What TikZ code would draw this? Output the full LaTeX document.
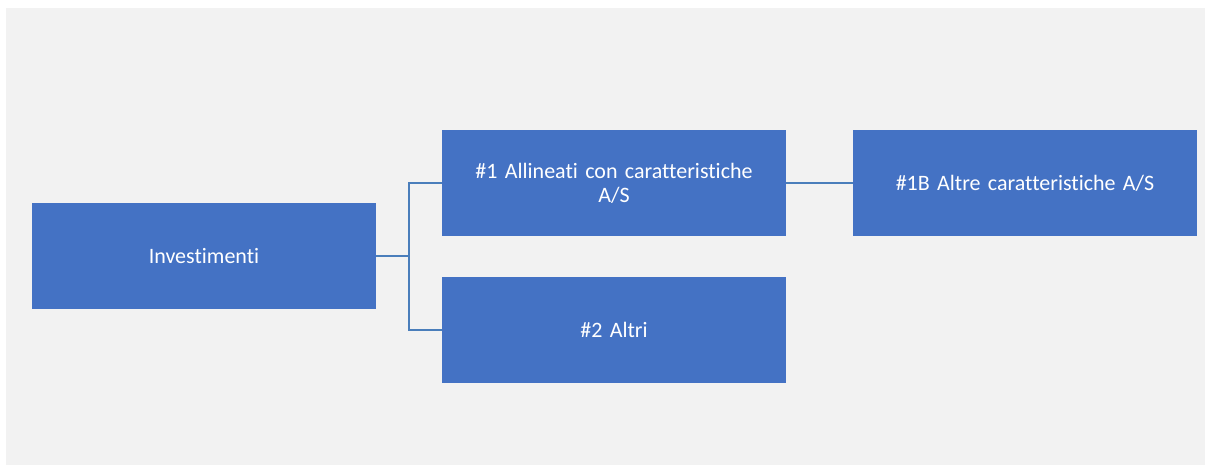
\documentclass[tikz,border=0pt]{standalone}
\usepackage{fontspec}
\setmainfont[Ligatures=NoCommon,WordSpace={0.85,0,0}]{Carlito}
\definecolor{boxblue}{HTML}{4472C4}
\definecolor{linkblue}{HTML}{4A7EBB}
\definecolor{bggray}{HTML}{F2F2F2}
\begin{document}
\begin{tikzpicture}[x=0.75pt,y=-0.75pt,
  blockbox/.style={fill=boxblue,draw=none,minimum width=344*0.75pt,minimum height=106*0.75pt,
    text=white,align=center,text width=330*0.75pt,inner sep=0pt,
    font=\fontsize{16.5pt}{18pt}\selectfont},
  elbow/.style={draw=linkblue,line width=1.6pt},
  thinlink/.style={draw=linkblue,line width=1.1pt}]
\useasboundingbox (0,0) rectangle (1205,465);
\fill[white] (0,0) rectangle (1205,465);
\fill[bggray] (6,8) rectangle (1205,465);
\node[blockbox] (inv) at (204,256) {Investimenti};
\node[blockbox] (a1) at (614,183) {\#1 Allineati con caratteristiche\\A/S};
\node[blockbox] (a2) at (614,330) {\#2 Altri};
\node[blockbox] (b1) at (1025,183) {\#1B Altre caratteristiche A/S};
\coordinate (mid) at (409,256);
\draw[elbow] (inv.east) -- (mid) |- (a1.west);
\draw[elbow] (mid) |- (a2.west);
\draw[thinlink] (a1.east) -- (b1.west);
\end{tikzpicture}
\end{document}
